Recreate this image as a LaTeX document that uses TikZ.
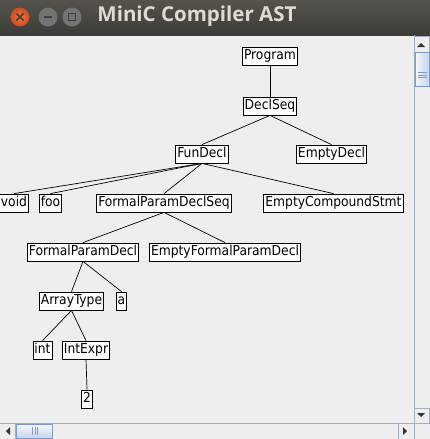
\documentclass[tikz,border=0pt]{standalone}
\usepackage{fontspec}
\setmainfont{DejaVu Sans Condensed}
\newfontfamily\titlefont{Open Sans}

\definecolor{winbg}{HTML}{EEEEEE}
\definecolor{barline}{HTML}{A3ADBD}
\definecolor{thumbline}{HTML}{7D9BD1}
\definecolor{thumbtop}{HTML}{F4F7FC}
\definecolor{thumbbot}{HTML}{C5D5EE}
\definecolor{closeorange}{HTML}{E9582E}
\definecolor{bartop}{HTML}{56534E}
\definecolor{barbot}{HTML}{3C3B37}
\definecolor{titletext}{HTML}{DFDBD2}

\begin{document}
\begin{tikzpicture}[x=1pt,y=-1pt,
    ast/.style={draw=black,fill=white,line width=0.8pt,font=\fontsize{13.7}{15}\selectfont,
      inner xsep=1.5pt,inner ysep=0pt,text height=10.5pt,text depth=3pt,minimum height=18pt},
    edge/.style={line width=0.7pt},
    winbtn/.style={circle,minimum size=19pt,inner sep=0pt},
    arrowbtn/.style={fill=winbg,draw=barline,line width=0.8pt},
    tip/.style={fill=black!80}]
    % window background and title bar
    \useasboundingbox (0,0) rectangle (430,439);
    \fill[winbg] (0,0) rectangle (430,439);
    \shade[top color=bartop,bottom color=barbot] (0,0) rectangle (430,35);
    \node[text=titletext,font=\titlefont\bfseries\fontsize{20.5}{22}\selectfont] (title) at (197,16.5) {MiniC Compiler AST};
    \node[winbtn,shading=radial,inner color=orange!70!red!80,outer color=closeorange!85!black] (close) at (20,17) {};
    \node[winbtn,fill=black!55] (minimize) at (48,17) {};
    \node[winbtn,fill=black!55] (maximize) at (72,17) {};
    \draw[line width=1.6pt,black!75] (16.5,13.5) -- (23.5,20.5) (16.5,20.5) -- (23.5,13.5);
    \draw[line width=1.6pt,black!75] (44,17) -- (52,17);
    \draw[line width=1.2pt,black!75] (68.5,13.5) rectangle (75.5,20.5);
    % AST nodes
    \node[ast] (prog) at (270,56) {Program};
    \node[ast] (declseq) at (270,106) {DeclSeq};
    \node[ast] (fundecl) at (202,154) {FunDecl};
    \node[ast] (emptydecl) at (331.5,154) {EmptyDecl};
    \node[ast] (void) at (14,203) {void};
    \node[ast] (foo) at (50.5,203) {foo};
    \node[ast] (fpdseq) at (164,203) {FormalParamDeclSeq};
    \node[ast] (ecstmt) at (333.5,203) {EmptyCompoundStmt};
    \node[ast] (fpdecl) at (83,252) {FormalParamDecl};
    \node[ast] (efpdecl) at (225,252) {EmptyFormalParamDecl};
    \node[ast] (arrtype) at (71.5,301) {ArrayType};
    \node[ast] (ident) at (121.5,301) {a};
    \node[ast] (inttype) at (42.5,350) {int};
    \node[ast] (intexpr) at (86,350) {IntExpr};
    \node[ast] (lit) at (87,399) {2};
    % tree edges
    \foreach \p/\c in {prog/declseq,declseq/fundecl,declseq/emptydecl,
        fundecl/void,fundecl/foo,fundecl/fpdseq,fundecl/ecstmt,
        fpdseq/fpdecl,fpdseq/efpdecl,fpdecl/arrtype,fpdecl/ident,
        arrtype/inttype,arrtype/intexpr,intexpr/lit} {
      \draw[edge] (\p.south) -- (\c.north);
    }
    % vertical scrollbar
    \draw[barline,line width=0.8pt] (414.5,35) -- (414.5,423);
    \draw[arrowbtn] (414.5,36.5) rectangle (429.5,52);
    \fill[tip] (417,47) -- (425,47) -- (421,43) -- cycle;
    \shade[left color=thumbtop,right color=thumbbot,draw=thumbline,line width=0.8pt]
      (415.5,52.5) rectangle (429,86);
    \foreach \y in {72.5,75,77.5} {
      \draw[thumbline,line width=0.7pt] (418,\y) -- (427,\y);
    }
    \draw[arrowbtn] (414.5,408) rectangle (429.5,423);
    \fill[tip] (417,413) -- (425,413) -- (421,417) -- cycle;
    % horizontal scrollbar
    \draw[barline,line width=0.8pt] (0,423.5) -- (430,423.5);
    \draw[arrowbtn] (-1,423.5) rectangle (15.5,439);
    \fill[tip] (10,427) -- (10,435) -- (6,431) -- cycle;
    \shade[top color=thumbtop,bottom color=thumbbot,draw=thumbline,line width=0.8pt]
      (16,424.5) rectangle (52.5,438);
    \foreach \x in {32.5,35,37.5} {
      \draw[thumbline,line width=0.7pt] (\x,427) -- (\x,435);
    }
    \draw[arrowbtn] (398,423.5) rectangle (414.5,439);
    \fill[tip] (403,427) -- (403,435) -- (407,431) -- cycle;
    \draw[barline,line width=0.8pt] (414.5,423.5) rectangle (430,439);
\end{tikzpicture}
\end{document}
